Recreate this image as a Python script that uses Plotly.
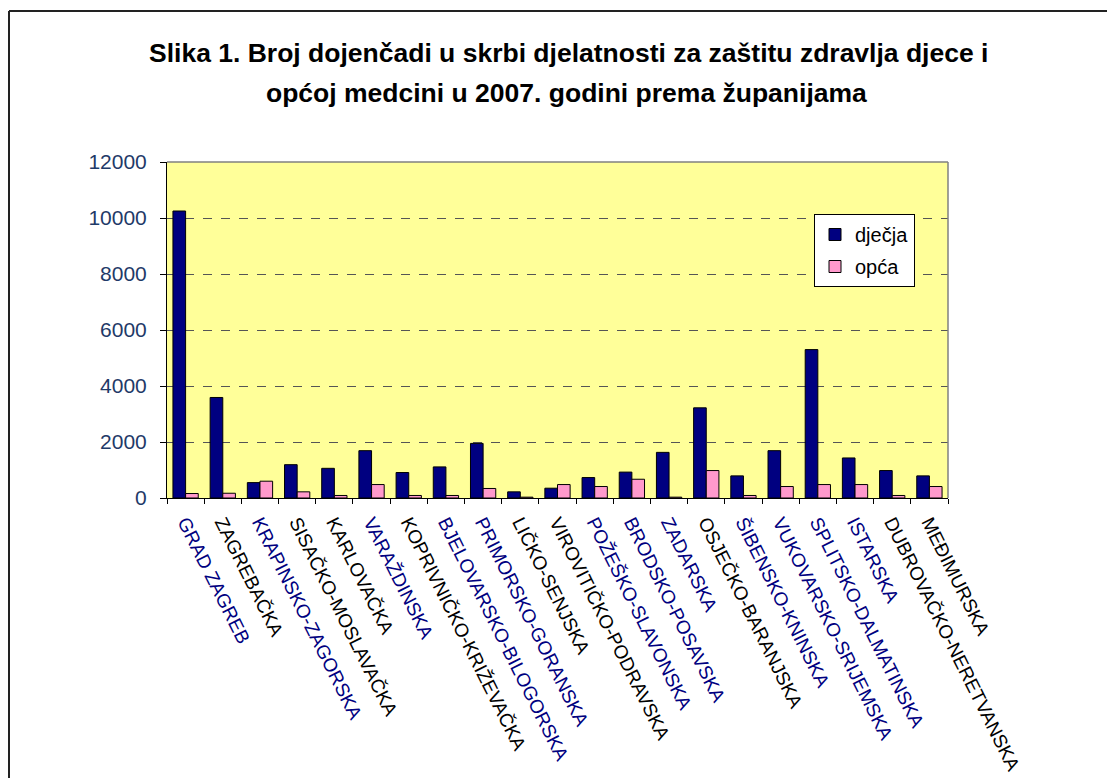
import plotly.graph_objects as go

counties = ["GRAD ZAGREB", "ZAGREBAČKA", "KRAPINSKO-ZAGORSKA", "SISAČKO-MOSLAVAČKA",
            "KARLOVAČKA", "VARAŽDINSKA", "KOPRIVNIČKO-KRIŽEVAČKA", "BJELOVARSKO-BILOGORSKA",
            "PRIMORSKO-GORANSKA", "LIČKO-SENJSKA", "VIROVITIČKO-PODRAVSKA", "POŽEŠKO-SLAVONSKA",
            "BRODSKO-POSAVSKA", "ZADARSKA", "OSJEČKO-BARANJSKA", "ŠIBENSKO-KNINSKA",
            "VUKOVARSKO-SRIJEMSKA", "SPLITSKO-DALMATINSKA", "ISTARSKA", "DUBROVAČKO-NERETVANSKA",
            "MEĐIMURSKA"]
djecja = [10250, 3590, 550, 1190, 1060, 1690, 910, 1110, 1950, 220, 350,
          730, 925, 1630, 3220, 790, 1690, 5300, 1430, 980, 790]
opca = [160, 170, 600, 220, 90, 480, 90, 90, 340, 30, 480,
        410, 670, 30, 980, 90, 410, 480, 480, 90, 410]
black_labels = {"ZAGREBAČKA", "SISAČKO-MOSLAVAČKA", "KARLOVAČKA", "KOPRIVNIČKO-KRIŽEVAČKA",
                "LIČKO-SENJSKA", "VIROVITIČKO-PODRAVSKA", "OSJEČKO-BARANJSKA",
                "DUBROVAČKO-NERETVANSKA", "MEĐIMURSKA"}
ytick_vals = [0, 2000, 4000, 6000, 8000, 10000, 12000]
ytick_text = ["0", "2000", "4000", "6000", "8000", "10000", "12000"]

ticktext = [f"<span style='color:#000000'>{c}</span>" if c in black_labels else c for c in counties]

FONT = "Arial, Liberation Sans, sans-serif"

fig = go.Figure()
fig.add_trace(go.Bar(x=counties, y=djecja, name="dječja", legendgroup="a",
                     marker=dict(color="#000080", line=dict(color="#000000", width=1))))
fig.add_trace(go.Bar(x=counties, y=opca, name="opća", legendgroup="b",
                     marker=dict(color="#FF99CC", line=dict(color="#000000", width=1))))

# page body has an 8px margin: figure coords = screen coords - 8
OFF = 8
W, H = 1107, 770
L, R, T, B = 167 - OFF, 948 - OFF, 162 - OFF, 498 - OFF
pw, ph = R - L, B - T

def px(x):
    return (x - OFF - L) / pw

def py(y):
    return (B - (y - OFF)) / ph

fig.update_layout(
    width=W, height=H,
    margin=dict(l=L, r=W - R, t=T, b=H - B, pad=0),
    paper_bgcolor="white", plot_bgcolor="#FFFF99",
    barmode="group", bargap=0.32, bargroupgap=0,
    font=dict(family=FONT, size=18, color="#000000"),
    showlegend=True,
    legend=dict(x=px(814), y=py(214), xanchor="left", yanchor="top",
                bgcolor="white", bordercolor="#000000", borderwidth=1,
                font=dict(family=FONT, size=20, color="#000000"),
                itemwidth=30, tracegroupgap=3),
    xaxis=dict(type="category", tickmode="array", tickvals=counties, ticktext=ticktext,
               tickangle=63.5, tickfont=dict(family=FONT, size=19, color="#000080"),
               ticks="outside", ticklen=5, tickcolor="#000000", tickson="boundaries",
               ticklabelstandoff=5,
               showline=True, linecolor="#000000", linewidth=1, showgrid=False,
               automargin=False, range=[-0.5, len(counties) - 0.5]),
    yaxis=dict(range=[0, 12000], tickmode="array", tickvals=ytick_vals, ticktext=ytick_text,
               tickfont=dict(family=FONT, size=21, color="#1F3A68"),
               ticks="outside", ticklen=6, tickcolor="#000000", ticklabelstandoff=9,
               showline=True, linecolor="#000000", linewidth=1,
               showgrid=True, gridcolor="#555555", griddash="dash", gridwidth=1,
               zeroline=False, automargin=False),
    shapes=[
        dict(type="line", xref="paper", yref="paper", x0=0, x1=1, y0=1, y1=1,
             line=dict(color="#808080", width=1.5)),
        dict(type="line", xref="paper", yref="paper", x0=1, x1=1, y0=0, y1=1,
             line=dict(color="#808080", width=1.5)),
        dict(type="line", xref="paper", yref="paper", x0=px(9), x1=px(9), y0=py(800), y1=py(11),
             line=dict(color="#222222", width=2)),
        dict(type="line", xref="paper", yref="paper", x0=px(9), x1=px(1130), y0=py(11), y1=py(11),
             line=dict(color="#222222", width=2)),
    ],
    annotations=[
        dict(text="<b>Slika 1. Broj dojenčadi u skrbi djelatnosti za zaštitu zdravlja djece i</b>",
             xref="paper", yref="paper", x=px(568), y=py(53), xanchor="center", yanchor="middle",
             showarrow=False, font=dict(family=FONT, size=26.5, color="#000000")),
        dict(text="<b>općoj medcini u 2007. godini prema županijama</b>",
             xref="paper", yref="paper", x=px(566), y=py(93), xanchor="center", yanchor="middle",
             showarrow=False, font=dict(family=FONT, size=26.5, color="#000000")),
    ],
)

fig.write_html("out.html")
